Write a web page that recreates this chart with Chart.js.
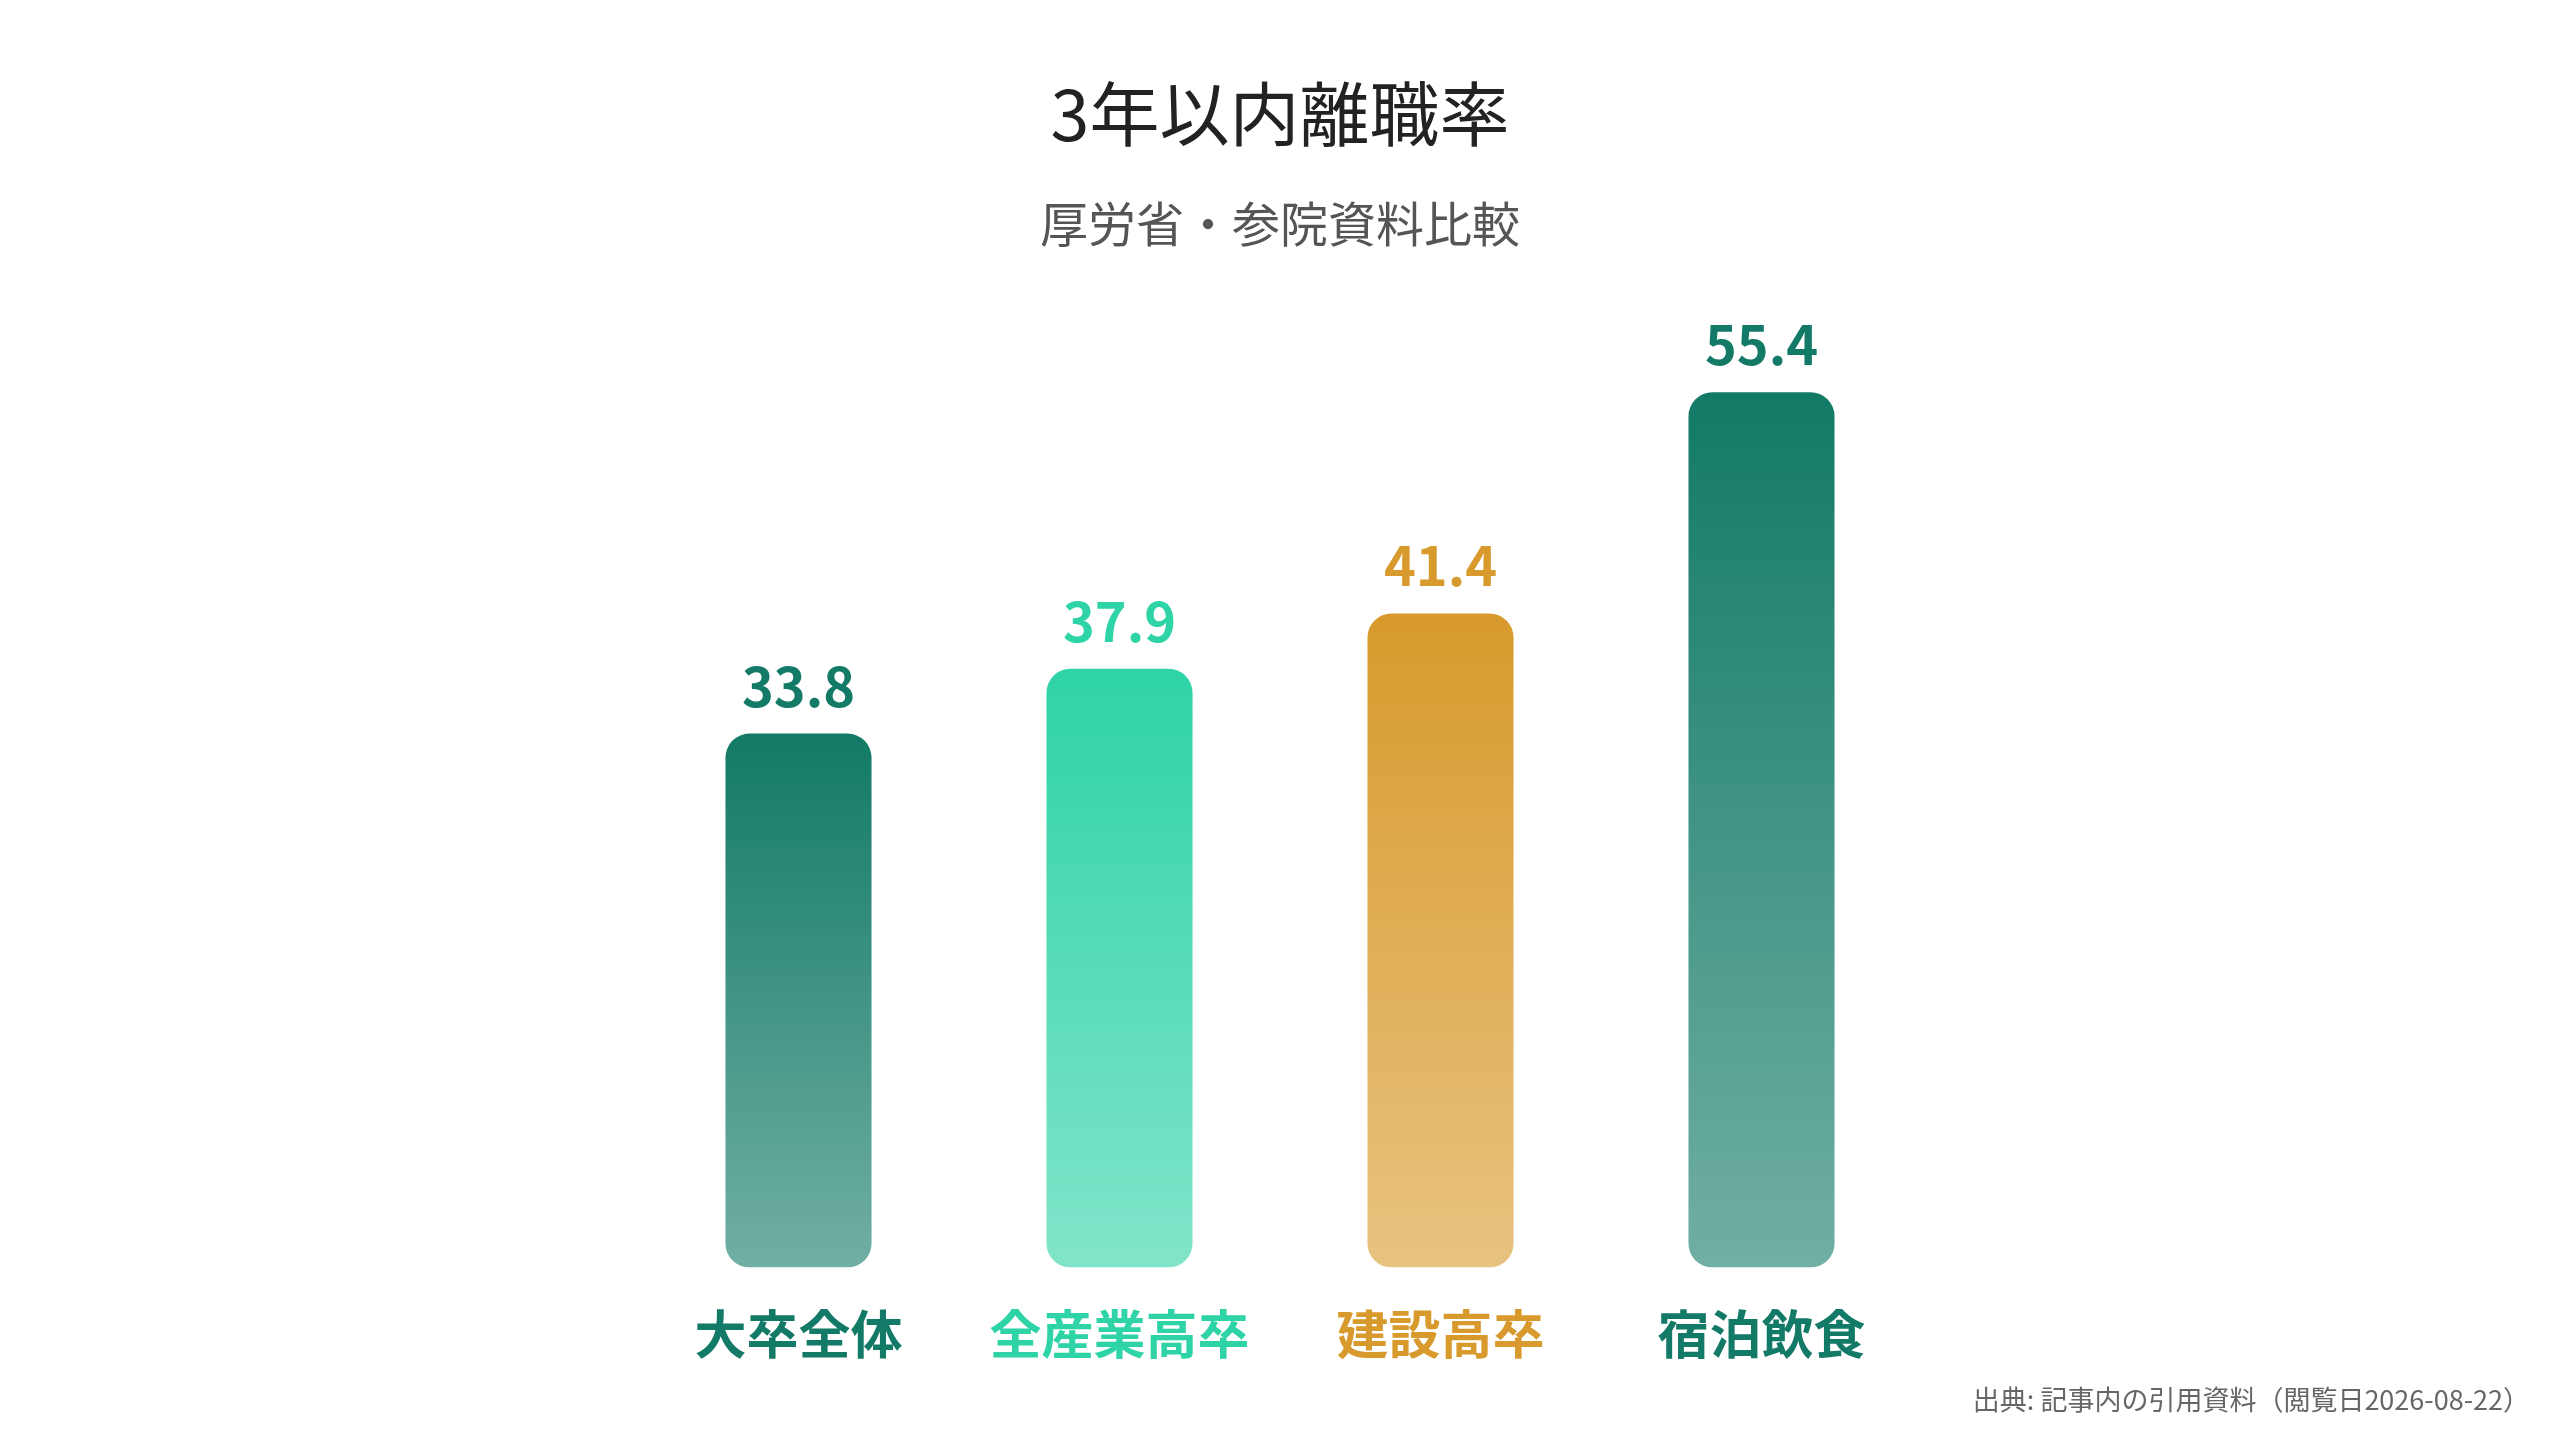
<!DOCTYPE html>
<html lang="ja">
<head>
<meta charset="utf-8">
<title>3年以内離職率</title>
<script src="https://cdn.jsdelivr.net/npm/chart.js@4.4.1/dist/chart.umd.min.js"></script>
<style>
  html, body { margin: 0; padding: 0; background: #fff; }
  #wrap { width: 2560px; height: 1440px; position: relative; }
</style>
</head>
<body>
<div id="wrap"><canvas id="barChart"></canvas></div>
<script>
// data
const categories = ['大卒全体', '全産業高卒', '建設高卒', '宿泊飲食'];
const rates = [33.8, 37.9, 41.4, 55.4];
const barColors = ['#127a66', '#2ed3a6', '#d89a2c', '#127a66'];
const titleText = '3年以内離職率';
const subtitleText = '厚労省・参院資料比較';
const sourceText = '出典: 記事内の引用資料（閲覧日2026-08-22）';

const FONT = "'Noto Sans CJK JP', 'Noto Sans', sans-serif";

function withAlpha(hex, a) {
    const n = parseInt(hex.slice(1), 16);
    return 'rgba(' + (n >> 16) + ',' + ((n >> 8) & 255) + ',' + (n & 255) + ',' + a + ')';
}

// value labels above each bar + source line at the bottom right
const labelPlugin = {
    id: 'valueLabels',
    afterDatasetsDraw(chart) {
        const ctx = chart.ctx;
        const meta = chart.getDatasetMeta(0);
        ctx.save();
        ctx.font = 'bold 54px ' + FONT;
        ctx.textAlign = 'center';
        ctx.textBaseline = 'alphabetic';
        meta.data.forEach((bar, i) => {
            ctx.fillStyle = barColors[i];
            ctx.fillText(rates[i].toFixed(1), bar.x, bar.y - 27);
        });
        ctx.font = '27px ' + FONT;
        ctx.fillStyle = '#666';
        ctx.textAlign = 'right';
        ctx.textBaseline = 'middle';
        ctx.fillText(sourceText, 2530, 1400);
        ctx.restore();
    }
};

var ctx = document.getElementById('barChart').getContext('2d');
var barChart = new Chart(ctx, {
    type: 'bar',
    data: {
        labels: categories,
        datasets: [{
            data: rates,
            backgroundColor: function(context) {
                const chart = context.chart;
                const i = context.dataIndex;
                if (!chart.chartArea || i === undefined) return barColors[i || 0];
                const y = chart.scales.y;
                const top = y.getPixelForValue(rates[i]);
                const bottom = y.getPixelForValue(0);
                const g = chart.ctx.createLinearGradient(0, top, 0, bottom);
                g.addColorStop(0, barColors[i]);
                g.addColorStop(1, withAlpha(barColors[i], 0.6));
                return g;
            },
            borderRadius: 24,
            borderSkipped: false,
            barPercentage: 0.455,
            categoryPercentage: 1.0
        }]
    },
    options: {
        responsive: true,
        maintainAspectRatio: false,
        animation: false,
        devicePixelRatio: 1,
        layout: {
            padding: { top: 0, left: 638, right: 638, bottom: 40 }
        },
        scales: {
            x: {
                grid: { display: false, drawTicks: false },
                border: { display: false },
                ticks: {
                    padding: 35,
                    color: function(c) { return barColors[c.index]; },
                    font: { family: FONT, size: 52, weight: 'bold', lineHeight: 1.2 }
                }
            },
            y: {
                display: false,
                min: 0,
                max: 60
            }
        },
        plugins: {
            legend: { display: false },
            tooltip: { enabled: false },
            title: {
                display: true,
                text: titleText,
                color: '#222',
                font: { family: FONT, size: 70, weight: 'normal', lineHeight: 1.2 },
                padding: { top: 72, bottom: 39 }
            },
            subtitle: {
                display: true,
                text: subtitleText,
                color: '#555',
                font: { family: FONT, size: 48, weight: 'normal', lineHeight: 1.2 },
                padding: { top: 0, bottom: 67 }
            }
        }
    },
    plugins: [labelPlugin]
});
</script>
</body>
</html>
